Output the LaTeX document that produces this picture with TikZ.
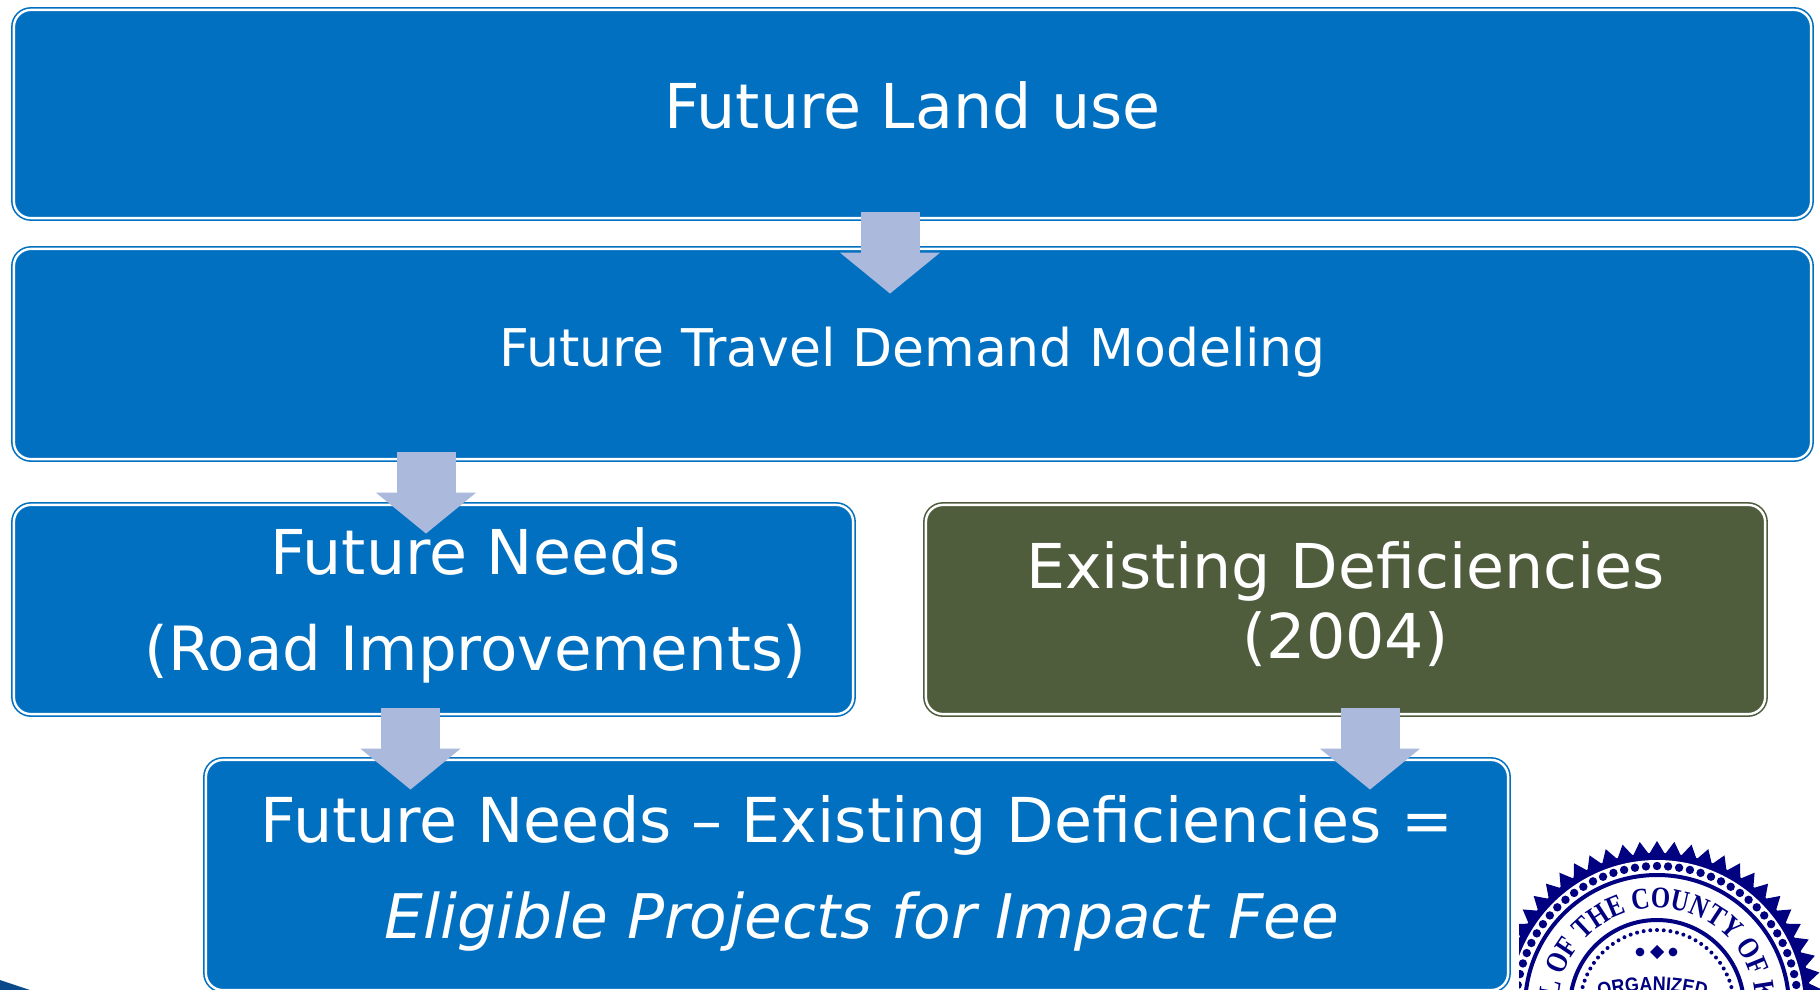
\documentclass[tikz,border=0pt]{standalone}
\usepackage{fontspec}
\setmainfont{DejaVu Sans}
\newfontfamily\sealserif[FakeStretch=0.83]{Liberation Serif}
\newfontfamily\sealsans[FakeStretch=0.9]{Liberation Sans}
\usetikzlibrary{arrows.meta,calc,decorations.text}
\definecolor{boxblue}{HTML}{0170C1}
\definecolor{boxolive}{HTML}{505D3D}
\definecolor{flowgrey}{HTML}{ABB9DC}
\definecolor{sealblue}{HTML}{000080}
\definecolor{cornerblue}{HTML}{0B4A8A}
\tikzset{
    stepbox/.style={rectangle, rounded corners=8.5pt, draw=#1, fill=#1, double=white, double distance=1.2pt, line width=0.8pt, inner sep=0pt, text=white, align=center},
    stepbox/.default=boxblue,
    flow/.style={draw=flowgrey, line width=29.5pt, -{Triangle[length=20.5pt,width=49pt]}}
}

\begin{document}
\begin{tikzpicture}[x=0.5pt,y=-0.5pt]
    \useasboundingbox (0,0) rectangle (1820,990);
    \clip (0,0) rectangle (1820,990);
    \fill[cornerblue] (0,980) -- (30,990) -- (0,990) -- cycle;
    \node[stepbox, minimum width=898.6pt, minimum height=104.1pt, font=\fontsize{30.9}{36}\selectfont] (landuse) at (912.5,114) {\raisebox{-7.5pt}[0pt][0pt]{Future Land use}};
    \node[stepbox, minimum width=898.6pt, minimum height=105.1pt, font=\fontsize{26}{30}\selectfont] (travel) at (912.5,354) {\raisebox{-6pt}[0pt][0pt]{Future Travel Demand Modeling}};
    \node[stepbox, minimum width=419.6pt, minimum height=104.6pt, font=\fontsize{30.9}{48}\selectfont] (needs) at (433.5,609.5) {\hspace*{42pt}Future Needs\\\hspace*{42pt}\fontsize{30.5}{48}\selectfont(Road Improvements)\rule[-10pt]{0pt}{1pt}};
    \node[stepbox=boxolive, minimum width=419.6pt, minimum height=104.6pt, font=\fontsize{30.9}{35}\selectfont] (deficit) at (1345.5,609.5) {Existing Deficiencies\\(2004)\rule[-9.3pt]{0pt}{1pt}};
    \node[stepbox, minimum width=651.1pt, minimum height=115.1pt, font=\fontsize{30.95}{48}\selectfont] (eligible) at (857,875) {Future Needs -- Existing Deficiencies =\\\hspace*{5pt}\fontsize{30.75}{48}\selectfont\textit{Eligible Projects for Impact Fee}\rule[-8.5pt]{0pt}{1pt}};
    \draw[flow] ($(landuse.south)+(-22.5,-6.5)$) -- ($(travel.north)+(-22.5,45.5)$);
    \draw[flow] ($(travel.south)+(-486.5,-7.5)$) -- ($(needs.north)+(-7.5,29.5)$);
    \draw[flow] ($(needs.south)+(-23,-6.5)$) -- ($(eligible.north)+(-446.5,30.5)$);
    \draw[flow] ($(deficit.south)+(24.5,-6.5)$) -- ($(eligible.north)+(513,30.5)$);
    % county seal, cut off by the page
    \begin{scope}
        \clip (1519,810) rectangle (1820,990);
        \begin{scope}[shift={(1657,1007)},x=0.5pt,y=0.5pt]
            \fill[sealblue] (0,0) circle (154);
            \foreach \a in {0,6,...,354}
                \fill[sealblue] (\a-3:153) -- (\a:166) -- (\a+3:153) -- cycle;
            \fill[white] (0,0) circle (147);
            \foreach \a in {0,4.5,...,355.5}
                \fill[sealblue] (\a:141) circle (4.2);
            \draw[sealblue, line width=2pt] (0,0) circle (132);
            \draw[sealblue, line width=2pt] (0,0) circle (87);
            \foreach \a in {0,5,...,355}
                \fill[sealblue] (\a:77) circle (2);
            \path[decorate, decoration={text along path,
                text={|\sealserif\bfseries\fontsize{15}{17}\selectfont\color{sealblue}|L OF THE COUNTY OF K}}]
                (175:99) arc[start angle=175, end angle=-30, radius=99];
            \fill[sealblue] (-17,55) circle (4.4);
            \fill[sealblue] (16,55) circle (4.4);
            \fill[sealblue] (0,62) -- (7,55) -- (0,48) -- (-7,55) -- cycle;
            \path[decorate, decoration={text along path, text align={center},
                text={|\sealsans\bfseries\fontsize{10}{12}\selectfont\color{sealblue}|ORGANIZED}}]
                (-75,4) .. controls (-27,20) and (18,20) .. (66,4);
        \end{scope}
    \end{scope}
\end{tikzpicture}
\end{document}
